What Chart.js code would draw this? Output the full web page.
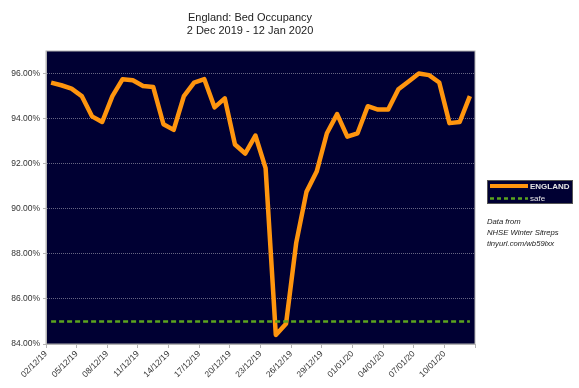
<!DOCTYPE html>
<html>
<head>
<meta charset="utf-8">
<title>England: Bed Occupancy</title>
<script src="https://cdn.jsdelivr.net/npm/chart.js@4.4.1/dist/chart.umd.min.js"></script>
<style>
  html, body { margin: 0; padding: 0; background: #fff; }
  #wrap { width: 579px; height: 388px; }
</style>
</head>
<body>
<div id="wrap"><canvas id="bedChart" width="579" height="388"></canvas></div>
<script>
// daily figures, 2 Dec 2019 - 12 Jan 2020
const dates = [
  '02/12/19', '03/12/19', '04/12/19', '05/12/19', '06/12/19', '07/12/19', '08/12/19',
  '09/12/19', '10/12/19', '11/12/19', '12/12/19', '13/12/19', '14/12/19', '15/12/19',
  '16/12/19', '17/12/19', '18/12/19', '19/12/19', '20/12/19', '21/12/19', '22/12/19',
  '23/12/19', '24/12/19', '25/12/19', '26/12/19', '27/12/19', '28/12/19', '29/12/19',
  '30/12/19', '31/12/19', '01/01/20', '02/01/20', '03/01/20', '04/01/20', '05/01/20',
  '06/01/20', '07/01/20', '08/01/20', '09/01/20', '10/01/20', '11/01/20', '12/01/20'
];

const england = [
  95.6, 95.48, 95.33, 95.0, 94.1, 93.85, 95.0,
  95.75, 95.7, 95.45, 95.4, 93.75, 93.5, 95.0,
  95.6, 95.75, 94.5, 94.9, 92.85, 92.45, 93.25,
  91.8, 84.4, 84.9, 88.5, 90.75, 91.65, 93.35,
  94.2, 93.2, 93.35, 94.55, 94.4, 94.4, 95.3,
  95.65, 96.0, 95.93, 95.6, 93.8, 93.85, 95.0
];

const safe = [
  85, 85, 85, 85, 85, 85, 85, 85, 85, 85, 85, 85, 85, 85,
  85, 85, 85, 85, 85, 85, 85, 85, 85, 85, 85, 85, 85, 85,
  85, 85, 85, 85, 85, 85, 85, 85, 85, 85, 85, 85, 85, 85
];

const yTicks = [84, 86, 88, 90, 92, 94, 96];
const xTicks = [0, 3, 6, 9, 12, 15, 18, 21, 24, 27, 30, 33, 36, 39, 42];

const titleLines = ['England: Bed Occupancy', '2 Dec 2019 - 12 Jan 2020'];
const noteLines = ['Data from', 'NHSE Winter Sitreps', 'tinyurl.com/wb59lxx'];

const FONT = "'Liberation Sans', Arial, sans-serif";
const NAVY = '#000033';
const ORANGE = '#ff950e';
const GREEN = '#5ba41e';

// each day sits in the middle of its slot on the date axis
const toPoints = arr => arr.map((v, i) => ({x: i + 0.5, y: v}));

const decorations = {
  id: 'decorations',
  beforeDraw(chart) {
    const {ctx, chartArea: a} = chart;
    ctx.save();
    ctx.fillStyle = NAVY;
    ctx.fillRect(a.left, a.top, a.right - a.left, a.bottom - a.top);
    ctx.restore();
  },
  afterDraw(chart) {
    const {ctx, chartArea: a} = chart;
    ctx.save();

    // frame round the plot
    ctx.strokeStyle = '#b3b3b3';
    ctx.lineWidth = 1;
    ctx.strokeRect(a.left, a.top, a.right - a.left, a.bottom - a.top);

    // title
    ctx.fillStyle = '#222';
    ctx.font = '11px ' + FONT;
    ctx.textAlign = 'center';
    ctx.textBaseline = 'middle';
    ctx.fillText(titleLines[0], 250, 18);
    ctx.fillText(titleLines[1], 250, 31);

    // legend
    ctx.fillStyle = NAVY;
    ctx.fillRect(487, 180, 86, 24);
    ctx.strokeStyle = '#555';
    ctx.strokeRect(487.5, 180.5, 85, 23);

    ctx.lineWidth = 4;
    ctx.strokeStyle = ORANGE;
    ctx.beginPath();
    ctx.moveTo(490, 186);
    ctx.lineTo(528, 186);
    ctx.stroke();

    ctx.lineWidth = 2.5;
    ctx.strokeStyle = GREEN;
    ctx.setLineDash([4, 3]);
    ctx.beginPath();
    ctx.moveTo(490, 198.5);
    ctx.lineTo(528, 198.5);
    ctx.stroke();
    ctx.setLineDash([]);

    ctx.fillStyle = '#e6e6e6';
    ctx.textAlign = 'left';
    ctx.font = 'bold 8px ' + FONT;
    ctx.fillText(chart.data.datasets[0].label, 530, 186.5);
    ctx.font = '8px ' + FONT;
    ctx.fillText(chart.data.datasets[1].label, 530, 198.5);

    // source note
    ctx.fillStyle = '#222';
    ctx.font = 'italic 7.7px ' + FONT;
    noteLines.forEach((t, i) => ctx.fillText(t, 487, 221.5 + i * 11));

    ctx.restore();
  }
};

new Chart(document.getElementById('bedChart'), {
  type: 'line',
  data: {
    datasets: [
      {
        label: 'ENGLAND',
        data: toPoints(england),
        borderColor: ORANGE,
        borderWidth: 4.5,
        borderJoinStyle: 'round',
        pointRadius: 0,
        tension: 0,
        order: 1
      },
      {
        label: 'safe',
        data: toPoints(safe),
        borderColor: GREEN,
        borderWidth: 2.5,
        borderDash: [5, 3],
        pointRadius: 0,
        tension: 0,
        order: 0
      }
    ]
  },
  options: {
    responsive: false,
    animation: false,
    devicePixelRatio: 1,
    layout: {padding: {top: 51, right: 104, left: 0, bottom: 0}},
    plugins: {
      legend: {display: false},
      tooltip: {enabled: false},
      title: {display: false}
    },
    scales: {
      x: {
        type: 'linear',
        min: 0,
        max: 42,
        afterBuildTicks: s => { s.ticks = xTicks.map(v => ({value: v})); },
        afterFit: s => {
          s.height = 44;
          s.paddingLeft = 0;
          s.paddingRight = 0;
        },
        grid: {drawOnChartArea: false, drawTicks: true, tickLength: 4, color: '#b3b3b3'},
        border: {color: '#b3b3b3'},
        ticks: {
          autoSkip: false,
          maxRotation: 45,
          minRotation: 45,
          padding: 1,
          color: '#333',
          font: {family: FONT, size: 8.5},
          callback: v => dates[v] || ''
        }
      },
      y: {
        min: 84,
        max: 97,
        afterBuildTicks: s => { s.ticks = yTicks.map(v => ({value: v})); },
        afterFit: s => {
          s.width = 46;
          s.paddingTop = 0;
          s.paddingBottom = 0;
        },
        grid: {color: 'rgba(170,170,185,0.6)', tickLength: 3, tickColor: '#b3b3b3'},
        border: {color: '#b3b3b3', dash: [1, 1]},
        ticks: {
          padding: 3,
          color: '#333',
          font: {family: FONT, size: 8.5},
          callback: v => v.toFixed(2) + '%'
        }
      }
    }
  },
  plugins: [decorations]
});
</script>
</body>
</html>
